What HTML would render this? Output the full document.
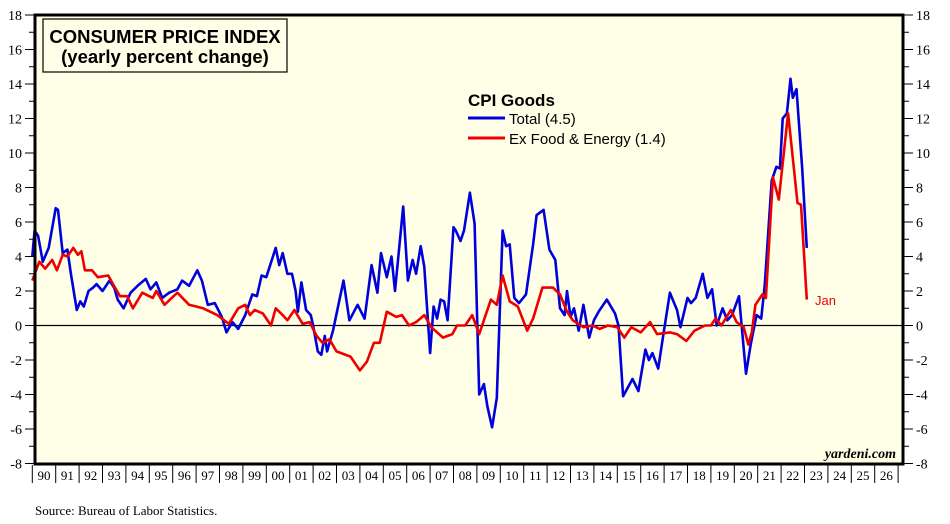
<!DOCTYPE html>
<html><head><meta charset="utf-8">
<style>
html,body{margin:0;padding:0;background:#fff;}
svg{display:block;}
text{font-family:"Liberation Serif",serif;}
.sans{font-family:"Liberation Sans",sans-serif;}
</style></head>
<body>
<svg width="950" height="524" viewBox="0 0 950 524" xmlns="http://www.w3.org/2000/svg">
<rect x="35" y="15" width="868" height="449" fill="#ffffe8"/>
<g id="grid"></g>
<g id="series"></g>
<rect x="35" y="15" width="868" height="449" fill="none" stroke="#000" stroke-width="3"/>
<g id="axes"></g>
<rect x="43" y="19" width="244" height="53" fill="#ffffe8" stroke="#000" stroke-width="1.2"/>
<text class="sans" x="165" y="43" text-anchor="middle" font-size="18.5" font-weight="bold">CONSUMER PRICE INDEX</text>
<text class="sans" x="165" y="63" text-anchor="middle" font-size="18.5" font-weight="bold">(yearly percent change)</text>
<text class="sans" x="468" y="106" font-size="17" font-weight="bold">CPI Goods</text>
<line x1="468" y1="118" x2="505" y2="118" stroke="#0000dd" stroke-width="3"/>
<text class="sans" x="509" y="124" font-size="15">Total (4.5)</text>
<line x1="468" y1="138" x2="505" y2="138" stroke="#ee0000" stroke-width="3"/>
<text class="sans" x="509" y="144" font-size="15">Ex Food &amp; Energy (1.4)</text>
<text class="sans" x="815" y="305" font-size="13" fill="#ee0000">Jan</text>
<text x="896" y="458" text-anchor="end" font-size="14" font-style="italic" font-weight="bold">yardeni.com</text>
<text x="35" y="515" font-size="13">Source: Bureau of Labor Statistics.</text>
</svg>
<script>
const totalDates=[1990.0,1990.1,1990.25,1990.45,1990.7,1991.0,1991.1,1991.3,1991.5,1991.65,1991.9,1992.05,1992.2,1992.4,1992.6,1992.75,1993.0,1993.3,1993.5,1993.65,1993.9,1994.2,1994.5,1994.85,1995.05,1995.3,1995.55,1995.85,1996.2,1996.4,1996.7,1997.05,1997.25,1997.5,1997.8,1998.1,1998.3,1998.55,1998.8,1999.1,1999.4,1999.6,1999.8,2000.0,2000.4,2000.55,2000.7,2000.9,2001.1,2001.25,2001.35,2001.5,2001.7,2001.9,2002.0,2002.2,2002.35,2002.5,2002.6,2002.85,2003.3,2003.55,2003.9,2004.2,2004.5,2004.75,2004.9,2005.15,2005.35,2005.5,2005.85,2006.05,2006.25,2006.4,2006.6,2006.75,2007.0,2007.15,2007.3,2007.45,2007.6,2007.75,2008.0,2008.1,2008.3,2008.45,2008.7,2008.9,2009.1,2009.3,2009.45,2009.65,2009.85,2010.1,2010.25,2010.4,2010.6,2010.8,2011.1,2011.4,2011.55,2011.85,2012.1,2012.35,2012.55,2012.75,2012.85,2013.0,2013.15,2013.35,2013.55,2013.8,2014.0,2014.2,2014.55,2014.9,2015.05,2015.25,2015.45,2015.65,2015.9,2016.2,2016.35,2016.5,2016.75,2016.95,2017.25,2017.55,2017.7,2018.0,2018.15,2018.35,2018.65,2018.85,2019.05,2019.25,2019.5,2019.7,2019.9,2020.2,2020.5,2020.7,2020.95,2021.15,2021.3,2021.6,2021.8,2021.95,2022.07,2022.25,2022.4,2022.5,2022.66,2022.9,2023.1];
const totalValues=[4.0,5.5,5.2,3.7,4.5,6.8,6.7,4.2,4.4,3.0,0.9,1.4,1.1,2.0,2.2,2.4,2.0,2.6,2.2,1.5,1.0,1.9,2.3,2.7,2.1,2.5,1.6,1.9,2.1,2.6,2.3,3.2,2.6,1.2,1.3,0.5,-0.4,0.2,-0.2,0.6,1.8,1.7,2.9,2.8,4.5,3.5,4.2,3.0,3.0,2.0,0.8,2.5,0.9,0.6,0.0,-1.5,-1.7,-0.6,-1.5,-0.3,2.6,0.3,1.2,0.4,3.5,1.9,4.2,2.8,4.0,2.0,6.9,2.6,3.8,3.0,4.6,3.4,-1.6,1.1,0.4,1.5,1.4,0.3,5.7,5.5,4.9,5.5,7.7,5.9,-4.0,-3.4,-4.7,-5.9,-4.2,5.5,4.6,4.7,1.6,1.3,1.8,4.7,6.4,6.7,4.4,3.8,1.0,0.6,2.0,0.5,1.0,-0.3,1.2,-0.7,0.3,0.8,1.5,0.7,0.0,-4.1,-3.6,-3.1,-3.8,-1.4,-2.0,-1.6,-2.5,-0.7,1.9,0.9,-0.1,1.6,1.3,1.6,3.0,1.6,2.1,0.0,1.0,0.3,0.6,1.7,-2.8,-1.1,0.6,0.4,2.3,8.4,9.2,9.1,12.0,12.3,14.3,13.2,13.7,9.1,4.5];
const coreDates=[1990.0,1990.3,1990.55,1990.85,1991.05,1991.3,1991.5,1991.75,1991.95,1992.1,1992.25,1992.55,1992.8,1993.25,1993.45,1993.75,1994.05,1994.3,1994.7,1995.15,1995.3,1995.65,1996.2,1996.7,1997.3,1997.9,1998.4,1998.8,1999.1,1999.3,1999.5,1999.85,2000.2,2000.4,2000.7,2000.9,2001.2,2001.55,2001.85,2002.15,2002.4,2002.7,2003.0,2003.6,2004.0,2004.3,2004.6,2004.85,2005.15,2005.55,2005.8,2006.1,2006.4,2006.75,2007.05,2007.55,2007.95,2008.15,2008.5,2008.8,2009.1,2009.6,2009.85,2010.1,2010.4,2010.75,2011.15,2011.4,2011.8,2012.25,2012.55,2012.85,2013.1,2013.55,2013.95,2014.25,2014.6,2015.0,2015.3,2015.6,2016.0,2016.4,2016.7,2017.25,2017.55,2017.95,2018.3,2018.75,2019.0,2019.2,2019.45,2019.85,2020.1,2020.4,2020.6,2020.75,2020.9,2021.2,2021.35,2021.65,2021.9,2022.3,2022.7,2022.85,2023.1];
const coreValues=[2.6,3.7,3.3,3.8,3.2,4.1,4.0,4.5,4.1,4.3,3.2,3.2,2.8,2.9,2.4,1.7,1.7,1.0,1.9,1.6,2.0,1.2,1.9,1.2,1.0,0.6,0.1,1.0,1.2,0.6,0.9,0.7,0.0,1.0,0.6,0.3,0.9,0.1,0.2,-0.6,-1.0,-0.8,-1.5,-1.8,-2.6,-2.1,-1.0,-1.0,0.8,0.5,0.6,0.0,0.2,0.6,-0.1,-0.7,-0.5,0.0,0.0,0.6,-0.5,1.5,1.2,2.9,1.4,1.1,-0.3,0.4,2.2,2.2,1.8,0.8,0.3,-0.1,0.0,-0.2,0.0,-0.1,-0.7,-0.1,-0.4,0.2,-0.5,-0.4,-0.5,-0.9,-0.3,0.0,0.0,0.4,0.0,0.9,0.2,-0.1,-1.1,-0.4,1.2,1.8,1.6,8.6,7.3,12.3,7.1,7.0,1.5];
const yTicks=[-8,-6,-4,-2,0,2,4,6,8,10,12,14,16,18];
const yearLabels=["90","91","92","93","94","95","96","97","98","99","00","01","02","03","04","05","06","07","08","09","10","11","12","13","14","15","16","17","18","19","20","21","22","23","24","25","26"];

const NS="http://www.w3.org/2000/svg";
const X0=32.3, PXY=23.4, Y0=325.5, PXV=17.25;
function xs(t){return X0+(t-1990)*PXY;}
function ys(v){return Y0-v*PXV;}
function mk(tag,attrs,parent){const e=document.createElementNS(NS,tag);for(const k in attrs)e.setAttribute(k,attrs[k]);parent.appendChild(e);return e;}
const axes=document.getElementById('axes');
const grid=document.getElementById('grid');
const series=document.getElementById('series');

const zl=mk('line',{x1:35,x2:903,y1:ys(0),y2:ys(0),stroke:'#000','stroke-width':1.3},grid);



for(let v=-8;v<=18;v++){
  const major=v%2===0;
  const l=mk('line',{x1:major?25:29,x2:34,y1:ys(v),y2:ys(v),stroke:'#000','stroke-width':1},axes);
  
  
  const r=mk('line',{x1:904,x2:major?913:909,y1:ys(v),y2:ys(v),stroke:'#000','stroke-width':1},axes);
  
  
}
yTicks.forEach(v=>{
  const t=mk('text',{x:22,y:ys(v)+5,'text-anchor':'end','font-size':14},axes);
  t.textContent=String(v);
  
  
  const t2=mk('text',{x:916,y:ys(v)+5,'text-anchor':'start','font-size':14},axes);
  t2.textContent=String(v);
  
  
});
yearLabels.forEach((lab,i)=>{
  const yr=1990+i;
  const tk=mk('line',{x1:xs(yr),x2:xs(yr),y1:465,y2:483,stroke:'#000','stroke-width':1},axes);
  
  
  const t=mk('text',{x:xs(yr+0.5),y:480,'text-anchor':'middle','font-size':13},axes);
  t.textContent=lab;
  
  
});
const tk2=mk('line',{x1:xs(2027),x2:xs(2027),y1:465,y2:483,stroke:'#000','stroke-width':1},axes);



function path(d,v){return d.map((t,i)=>(i?'L':'M')+xs(t).toFixed(1)+' '+ys(v[i]).toFixed(1)).join(' ');}
const pt=mk('path',{d:path(totalDates,totalValues),fill:'none',stroke:'#0000dd','stroke-width':2.6,'stroke-linejoin':'round'},series);


const pc=mk('path',{d:path(coreDates,coreValues),fill:'none',stroke:'#ee0000','stroke-width':2.6,'stroke-linejoin':'round'},series);


</script>
</body></html>
